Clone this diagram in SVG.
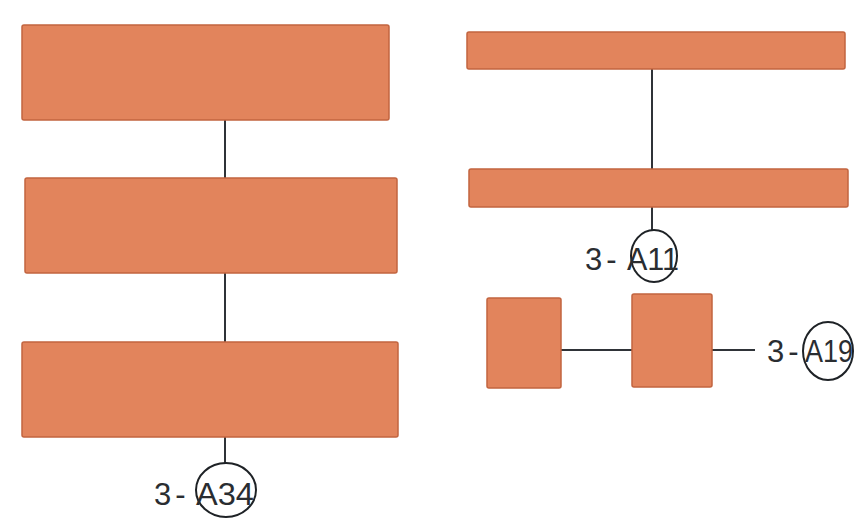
<svg xmlns="http://www.w3.org/2000/svg" width="860" height="521" viewBox="0 0 860 521">
<style>
.box{fill:#E2845C;stroke:#C2643F;stroke-width:1.5}
.ln{stroke:#2f3338;stroke-width:2;fill:none}
.circ{fill:none;stroke:#1e2226;stroke-width:2}
.t{font-family:"Liberation Sans",Arial,sans-serif;font-size:31px;fill:#2a2d31}
.p{letter-spacing:4px}
</style>
<rect width="860" height="521" fill="#ffffff"/>
<g id="connectors">
<line class="ln" x1="225" y1="120" x2="225" y2="178"/>
<line class="ln" x1="225" y1="273" x2="225" y2="342"/>
<line class="ln" x1="225" y1="437" x2="225" y2="463"/>
<line class="ln" x1="652" y1="69" x2="652" y2="169"/>
<line class="ln" x1="652" y1="207" x2="652" y2="231"/>
<line class="ln" x1="561" y1="350" x2="632" y2="350"/>
<line class="ln" x1="712" y1="350" x2="755" y2="350"/>
</g>
<g id="L1"><rect class="box" x="22" y="25" width="367" height="95" rx="2"/></g>
<g id="L2"><rect class="box" x="25" y="178" width="372" height="95" rx="2"/></g>
<g id="L3"><rect class="box" x="22" y="342" width="376" height="95" rx="2"/></g>
<g id="R1"><rect class="box" x="467" y="32" width="378" height="37" rx="2"/></g>
<g id="R2"><rect class="box" x="469" y="169" width="379" height="38" rx="2"/></g>
<g id="S1"><rect class="box" x="487" y="298" width="74" height="90" rx="2"/></g>
<g id="S2"><rect class="box" x="632" y="294" width="80" height="93" rx="2"/></g>
<g id="ref-A34">
<text class="t p" x="154" y="505">3-</text>
<ellipse class="circ" cx="226" cy="490" rx="30" ry="27"/>
<text class="t" x="196" y="505" textLength="58" lengthAdjust="spacingAndGlyphs">A34</text>
</g>
<g id="ref-A11">
<text class="t p" x="585" y="270">3-</text>
<ellipse class="circ" cx="654" cy="256" rx="23" ry="26"/>
<text class="t" x="627" y="270" textLength="52" lengthAdjust="spacingAndGlyphs">A11</text>
</g>
<g id="ref-A19">
<text class="t p" x="767" y="362">3-</text>
<ellipse class="circ" cx="828" cy="351" rx="25" ry="29"/>
<text class="t" x="805" y="362" textLength="48" lengthAdjust="spacingAndGlyphs">A19</text>
</g>
</svg>
